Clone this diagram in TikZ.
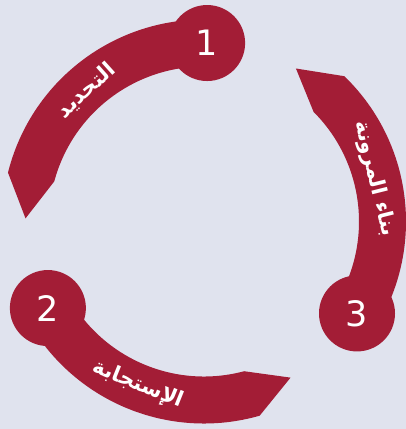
\documentclass[tikz,border=0pt]{standalone}
\usepackage{fontspec}
\setmainfont{DejaVu Sans}
\newfontfamily\arabicfont[Script=Arabic]{DejaVu Sans}
\TeXXeTstate=1
\definecolor{ringred}{RGB}{163,29,54}
\definecolor{bgblue}{RGB}{224,227,238}

\begin{document}
\begin{tikzpicture}[x=1pt,y=1pt,
  band/.style={fill=ringred,draw=none},
  num/.style={circle,fill=ringred,minimum size=76pt,inner sep=0pt,text=white,font=\fontsize{35}{35}\selectfont},
  lbl/.style={text=white,font=\arabicfont\bfseries\fontsize{21}{21}\selectfont,inner sep=0pt}]
  \fill[bgblue] (-204,-207.5) rectangle (202,221.5);
  \useasboundingbox (-204,-207.5) rectangle (202,221.5);
  % three arrow bands with their numbered discs
  \foreach \a/\n in {89/1,209/2,329/3} {
    \fill[band] (\a:155) -- (\a:202) arc[start angle=\a, end angle=\a+77, radius=202]
      -- (\a+90:178.5) -- (\a+76:155) arc[start angle=\a+76, end angle=\a, radius=155] -- cycle;
    \node[num] (c\n) at (\a:178.5) {\n};
  }
  \node[lbl,rotate=42] (t1) at (132:176) {\beginR التحديد\endR};
  \node[lbl,rotate=-22] (t2) at (248:176) {\beginR الإستجابة\endR};
  \node[lbl,rotate=-76] (t3) at (14:176) {\beginR بناء المرونة\endR};
\end{tikzpicture}
\end{document}
